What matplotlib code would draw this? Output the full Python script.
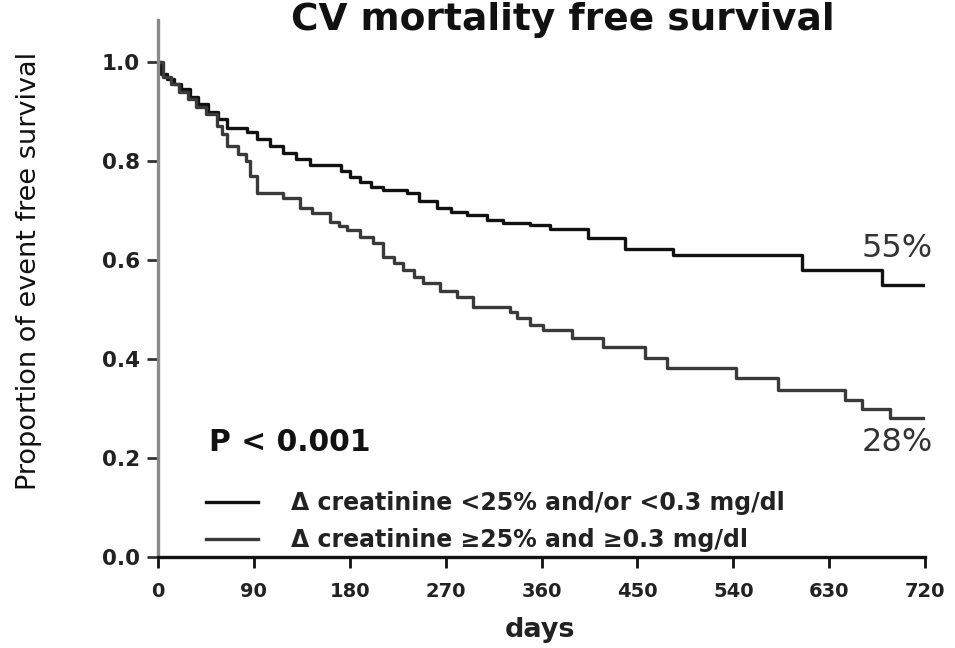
import matplotlib
matplotlib.use("Agg")
import matplotlib.pyplot as plt

plt.rcParams['font.family'] = ['DejaVu Sans']

# ---- data ----
days_low_rise = [0, 3, 8, 15, 22, 30, 38, 47, 56, 65, 84, 93, 105, 117, 130, 143,
                 172, 180, 190, 200, 211, 234, 245, 262, 275, 290, 309, 324, 349,
                 368, 404, 438, 483, 605, 680, 720]
surv_low_rise = [1.0, 0.975, 0.965, 0.955, 0.945, 0.93, 0.915, 0.90, 0.885, 0.867,
                 0.859, 0.845, 0.83, 0.816, 0.805, 0.792, 0.78, 0.768, 0.758, 0.748,
                 0.741, 0.735, 0.72, 0.705, 0.697, 0.691, 0.681, 0.675, 0.671, 0.662,
                 0.644, 0.622, 0.61, 0.58, 0.55, 0.55]

days_high_rise = [0, 5, 12, 20, 28, 36, 45, 55, 60, 65, 75, 83, 86, 93, 117, 133,
                  145, 161, 170, 177, 190, 202, 211, 222, 230, 240, 249, 265, 281,
                  296, 330, 337, 349, 361, 389, 418, 457, 478, 543, 582, 645, 661,
                  687, 720]
surv_high_rise = [1.0, 0.97, 0.955, 0.94, 0.925, 0.91, 0.895, 0.87, 0.855, 0.83,
                  0.815, 0.80, 0.77, 0.735, 0.725, 0.705, 0.695, 0.677, 0.668, 0.66,
                  0.647, 0.634, 0.606, 0.595, 0.58, 0.565, 0.553, 0.538, 0.525, 0.505,
                  0.495, 0.483, 0.469, 0.459, 0.442, 0.424, 0.402, 0.382, 0.362, 0.337,
                  0.317, 0.30, 0.28, 0.28]

series_labels = ["Δ creatinine <25% and/or <0.3 mg/dl",
                 "Δ creatinine ≥25% and ≥0.3 mg/dl"]
x_ticks = [0, 90, 180, 270, 360, 450, 540, 630, 720]
y_ticks = [0.0, 0.2, 0.4, 0.6, 0.8, 1.0]
end_labels = ["55%", "28%"]
p_text = "P < 0.001"
title = "CV mortality free survival"

# ---- figure ----
fig = plt.figure(figsize=(9.55, 6.48), dpi=100)
ax = fig.add_axes([158/955, 1-557/648, (925-158)/955, (557-20)/648])

l1, = ax.step(days_low_rise, surv_low_rise, where='post', color='#111111', lw=2.4)
l2, = ax.step(days_high_rise, surv_high_rise, where='post', color='#3a3a3a', lw=2.4)

ax.set_xlim(0, 720)
ax.set_ylim(0, 1.085)
ax.set_xticks(x_ticks)
ax.set_xticklabels([str(t) for t in x_ticks], fontsize=14, fontweight='bold', color='#222222')
ax.set_yticks(y_ticks)
ax.set_yticklabels([f"{t:.1f}" for t in y_ticks], fontsize=15.5, fontweight='bold', color='#222222')

for s in ['top', 'right']:
    ax.spines[s].set_visible(False)
ax.spines['left'].set_color('#8a8a8a')
ax.spines['left'].set_linewidth(2.4)
ax.spines['bottom'].set_color('#111111')
ax.spines['bottom'].set_linewidth(2.4)
ax.tick_params(axis='y', direction='out', length=8, width=2, color='#333333', pad=5)
ax.tick_params(axis='x', direction='out', length=8, width=2, color='#111111', pad=10)

ax.text(694, 0.624, end_labels[0], fontsize=23, ha='center', va='center', color='#333333')
ax.text(694, 0.232, end_labels[1], fontsize=23, ha='center', va='center', color='#333333')
ax.text(48, 0.232, p_text, fontsize=21.5, fontweight='bold', ha='left', va='center', color='#111111')

leg = ax.legend([l1, l2], series_labels, loc='center left',
                bbox_to_anchor=(45, 0.072), bbox_transform=ax.transData,
                frameon=False, borderpad=0, borderaxespad=0,
                handlelength=2.2, handletextpad=1.4, labelspacing=0.55,
                prop={'size': 17, 'weight': 'bold'})
for t in leg.get_texts():
    t.set_color('#222222')

fig.text(29/955, 1-271/648, "Proportion of event free survival", rotation=90,
         ha='center', va='center', fontsize=19.5, color='#111111')
fig.text(540/955, 1-637/648, "days", ha='center', va='baseline',
         fontsize=19.5, fontweight='bold', color='#222222')
fig.text(563/955, 1-30/648, title, ha='center', va='baseline',
         fontsize=27, fontweight='bold', color='#111111')

fig.savefig("out.png", dpi=100)
